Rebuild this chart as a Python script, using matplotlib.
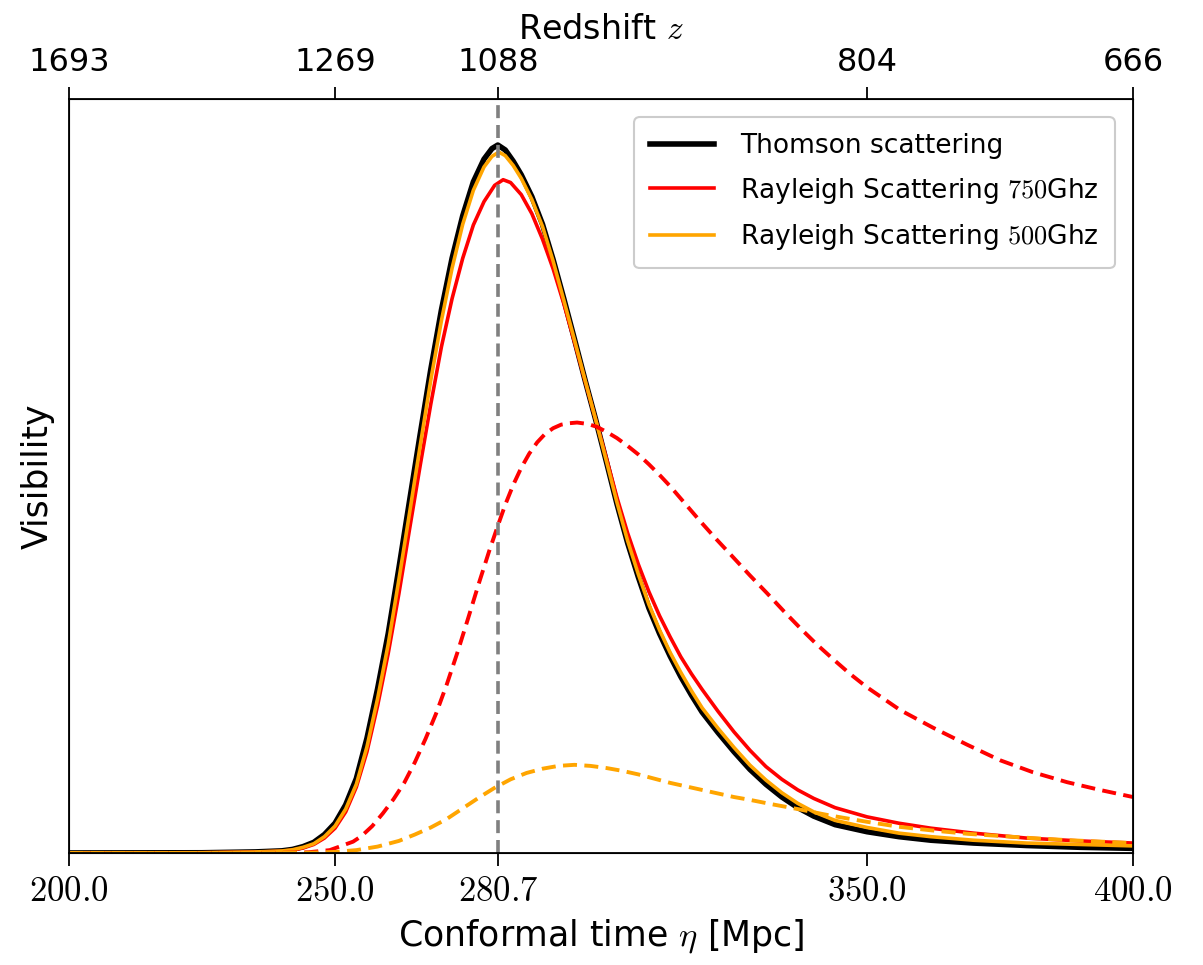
import numpy as np
import matplotlib.pyplot as plt

plt.rcParams['font.family'] = ['DejaVu Sans']
plt.rcParams['mathtext.fontset'] = 'cm'

# Thomson scattering visibility (peak normalised to 1)
eta_thomson = [200, 225, 235, 240, 242, 244, 246, 248, 250, 252, 254, 256, 258, 260, 262,
               264, 266, 268, 270, 272, 274, 276, 278, 279.5, 280.6, 282, 283.5, 285, 287,
               289, 291, 293, 295, 297, 299, 301, 303, 305, 307, 309, 311, 313, 315, 317,
               319, 322, 325, 328, 331, 334, 337, 340, 344, 350, 356, 362, 370, 380, 390, 400]
vis_thomson = [0, 0.0003, 0.0015, 0.003, 0.005, 0.009, 0.015, 0.026, 0.042, 0.068, 0.105, 0.162,
               0.232, 0.310, 0.402, 0.497, 0.591, 0.683, 0.767, 0.840, 0.900, 0.948, 0.980,
               0.995, 1.0, 0.993, 0.977, 0.958, 0.927, 0.888, 0.838, 0.783, 0.726, 0.668,
               0.612, 0.553, 0.493, 0.438, 0.390, 0.346, 0.310, 0.278, 0.249, 0.223, 0.199,
               0.170, 0.143, 0.118, 0.097, 0.079, 0.064, 0.052, 0.040, 0.030, 0.023, 0.018,
               0.014, 0.0105, 0.008, 0.0065]

# Rayleigh 750 GHz, total visibility
eta_r750 = [200, 225, 235, 240, 242, 244, 246, 248, 250, 252, 254, 256, 258, 260, 262,
            264, 266, 268, 270, 272, 274, 276, 278, 280, 281.6, 283, 285, 287, 289, 291,
            293, 295, 297, 299, 301, 303, 305, 307, 309, 311, 313, 315, 317, 319, 322,
            325, 328, 331, 334, 337, 340, 344, 350, 356, 362, 370, 380, 390, 400]
vis_r750 = [0, 0.0002, 0.0012, 0.0025, 0.004, 0.007, 0.012, 0.021, 0.035, 0.058, 0.093, 0.143,
            0.208, 0.282, 0.366, 0.457, 0.547, 0.634, 0.715, 0.783, 0.840, 0.887, 0.920,
            0.943, 0.951, 0.947, 0.930, 0.903, 0.867, 0.825, 0.776, 0.722, 0.667, 0.612,
            0.558, 0.502, 0.452, 0.408, 0.369, 0.335, 0.305, 0.277, 0.253, 0.231, 0.200,
            0.171, 0.145, 0.122, 0.104, 0.089, 0.077, 0.064, 0.051, 0.042, 0.035, 0.028,
            0.021, 0.017, 0.014]

# Rayleigh 500 GHz, total visibility
eta_r500 = [200, 225, 235, 240, 242, 244, 246, 248, 250, 252, 254, 256, 258, 260, 262,
            264, 266, 268, 270, 272, 274, 276, 278, 279.5, 280.8, 282, 283.5, 285, 287,
            289, 291, 293, 295, 297, 299, 301, 303, 305, 307, 309, 311, 313, 315, 317,
            319, 322, 325, 328, 331, 334, 337, 340, 344, 350, 356, 362, 370, 380, 390, 400]
vis_r500 = [0, 0.0003, 0.0014, 0.0028, 0.0045, 0.008, 0.013, 0.023, 0.038, 0.062, 0.097, 0.150,
            0.218, 0.295, 0.386, 0.480, 0.575, 0.668, 0.752, 0.826, 0.888, 0.936, 0.969,
            0.984, 0.990, 0.985, 0.971, 0.953, 0.923, 0.885, 0.836, 0.781, 0.725, 0.668,
            0.612, 0.554, 0.495, 0.441, 0.394, 0.351, 0.315, 0.283, 0.255, 0.229, 0.205,
            0.176, 0.149, 0.124, 0.103, 0.085, 0.070, 0.058, 0.046, 0.036, 0.028, 0.023,
            0.018, 0.014, 0.012, 0.010]

# Rayleigh-only contributions (dashed)
eta_r750_ray = [200, 240, 245, 249, 253.4, 255, 257, 259, 261, 263, 265, 267, 269, 271, 273,
                275, 277, 279, 280.5, 282, 283.5, 285, 286.5, 288, 289.5, 291, 292.5, 294,
                295.5, 297.5, 299.2, 301, 303, 305, 307, 309, 311, 313, 315.4, 318.6,
                321.7, 324.8, 328, 331.2, 334.3, 337.4, 340.5, 343.6, 346.8, 350, 356.2, 362.4,
                368.8, 375, 381.2, 387.6, 393.8, 400]
vis_r750_ray = [0, 0.0002, 0.001, 0.004, 0.016, 0.024, 0.038, 0.056, 0.076, 0.099, 0.128, 0.161,
                0.197, 0.238, 0.283, 0.331, 0.380, 0.427, 0.460, 0.492, 0.520, 0.544, 0.564,
                0.580, 0.592, 0.600, 0.605, 0.607, 0.608, 0.606, 0.602, 0.595, 0.586, 0.575,
                0.563, 0.549, 0.534, 0.518, 0.497, 0.469, 0.443, 0.418, 0.392, 0.367, 0.342,
                0.318, 0.295, 0.274, 0.253, 0.234, 0.202, 0.177, 0.153, 0.131, 0.114, 0.100,
                0.089, 0.079]

eta_r500_ray = [200, 240, 246, 250, 254, 258, 262, 265, 268, 271, 274, 277, 280, 283, 286,
                289, 292, 295, 298, 301, 304, 307, 310, 313, 316, 319, 322, 325, 328, 332,
                337, 343, 350, 356, 362, 369, 375, 381, 388, 394, 400]
vis_r500_ray = [0, 0, 0.0005, 0.0015, 0.004, 0.009, 0.017, 0.026, 0.036, 0.048, 0.063, 0.078,
                0.092, 0.104, 0.113, 0.119, 0.123, 0.1245, 0.123, 0.120, 0.116, 0.111, 0.105,
                0.099, 0.094, 0.089, 0.084, 0.079, 0.075, 0.069, 0.062, 0.053, 0.044, 0.037,
                0.032, 0.027, 0.024, 0.021, 0.018, 0.016, 0.014]

eta_ticks = [200.0, 250.0, 280.7, 350.0, 400.0]
z_labels = ['1693', '1269', '1088', '804', '666']
eta_star = 280.7

fig = plt.figure(figsize=(12.03, 9.65), dpi=100)
ax = fig.add_axes([0.0574, 0.1161, 0.8844, 0.7813])

dash = (0, (3.6, 1.9))
ax.plot(eta_thomson, vis_thomson, color='black', lw=4, label='Thomson scattering')
ax.plot(eta_r750, vis_r750, color='red', lw=2.6, label=r'Rayleigh Scattering $750$Ghz')
ax.plot(eta_r500, vis_r500, color='orange', lw=2.6, label=r'Rayleigh Scattering $500$Ghz')
ax.plot(eta_r750_ray, vis_r750_ray, color='red', lw=2.8, ls=dash)
ax.plot(eta_r500_ray, vis_r500_ray, color='orange', lw=2.8, ls=dash)
ax.axvline(eta_star, color='gray', lw=2.6, ls=dash)

ax.set_xlim(200, 400)
ax.set_ylim(0, 1.065)
ax.set_yticks([])
ax.set_xticks(eta_ticks)
ax.set_xticklabels([f'${v:.1f}$' for v in eta_ticks])
ax.tick_params(axis='x', labelsize=25, length=9, width=1.3, pad=6)
ax.set_xlabel(r'Conformal time $\eta$ [Mpc]', fontsize=25, labelpad=7)
ax.set_ylabel('Visibility', fontsize=25, labelpad=10)
for sp in ax.spines.values():
    sp.set_linewidth(1.3)

ax2 = ax.twiny()
ax2.set_xlim(ax.get_xlim())
ax2.set_xticks(eta_ticks)
ax2.set_xticklabels(z_labels)
ax2.tick_params(axis='x', labelsize=23, length=9, width=1.3, pad=6)
ax2.set_xlabel(r'Redshift $z$', fontsize=24, labelpad=6)

leg = ax.legend(loc='upper right', fontsize=19, handlelength=2.4, borderpad=0.6,
                labelspacing=0.62, handletextpad=1.0, borderaxespad=0.7, fancybox=True,
                framealpha=1, edgecolor='#cccccc')
leg.get_frame().set_linewidth(1.5)

fig.savefig('out.png', dpi=100)
